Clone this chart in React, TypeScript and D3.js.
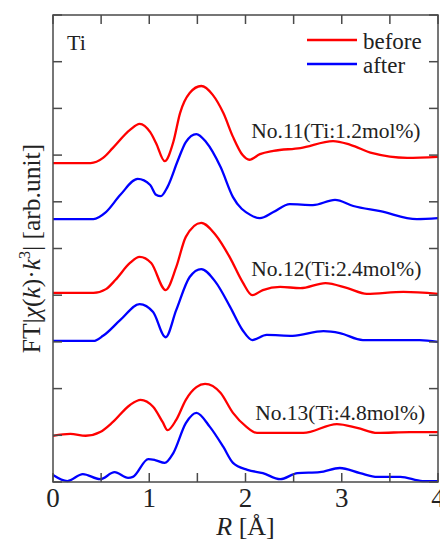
import React from 'react';
import * as d3 from 'd3';

// FT of EXAFS spectra, R in angstrom, magnitude in arbitrary (offset) units
const no11Before: [number, number][] = [
  [0, 6.83], [0.39, 6.83], [0.52, 6.94], [0.62, 7.15], [0.8, 7.54], [0.9, 7.67],
  [1.01, 7.49], [1.07, 7.26], [1.16, 6.87], [1.25, 7.28], [1.32, 7.9], [1.42, 8.33],
  [1.54, 8.48], [1.66, 8.29], [1.77, 7.9], [1.87, 7.39], [1.97, 7.0], [2.04, 6.9],
  [2.15, 7.02], [2.29, 7.09], [2.57, 7.15], [2.91, 7.3], [3.09, 7.22], [3.32, 7.04],
  [3.68, 6.94], [4.0, 6.96],
];
const no11After: [number, number][] = [
  [0, 5.63], [0.42, 5.63], [0.55, 5.78], [0.7, 6.15], [0.88, 6.49], [1.01, 6.36],
  [1.07, 6.15], [1.12, 6.12], [1.19, 6.32], [1.3, 6.9], [1.38, 7.28], [1.49, 7.45],
  [1.59, 7.28], [1.74, 6.75], [1.87, 6.1], [2.05, 5.72], [2.15, 5.65], [2.29, 5.78],
  [2.46, 5.95], [2.7, 5.93], [2.93, 6.04], [3.12, 5.91], [3.4, 5.8], [3.78, 5.63],
  [4.0, 5.65],
];
const no12Before: [number, number][] = [
  [0, 4.05], [0.42, 4.05], [0.55, 4.13], [0.65, 4.33], [0.8, 4.69], [0.9, 4.82],
  [1.02, 4.69], [1.17, 4.11], [1.28, 4.6], [1.38, 5.25], [1.54, 5.55], [1.69, 5.29],
  [1.84, 4.8], [1.97, 4.28], [2.07, 4.0], [2.18, 4.11], [2.36, 4.18], [2.57, 4.15],
  [2.83, 4.26], [3.06, 4.15], [3.26, 4.03], [3.64, 4.07], [4.0, 4.03],
];
const no12After: [number, number][] = [
  [0, 3.02], [0.42, 3.02], [0.52, 3.13], [0.7, 3.47], [0.9, 3.81], [1.04, 3.64],
  [1.17, 3.1], [1.28, 3.68], [1.42, 4.39], [1.54, 4.56], [1.69, 4.28], [1.84, 3.75],
  [1.97, 3.25], [2.07, 3.04], [2.22, 3.15], [2.49, 3.13], [2.81, 3.23], [2.98, 3.19],
  [3.22, 3.04], [3.81, 3.04], [4.0, 3.0],
];
const no13Before: [number, number][] = [
  [0, 0.99], [0.18, 1.03], [0.34, 0.99], [0.49, 1.07], [0.62, 1.28], [0.8, 1.65],
  [0.91, 1.76], [1.04, 1.61], [1.14, 1.28], [1.19, 1.11], [1.28, 1.33], [1.38, 1.76],
  [1.49, 2.03], [1.58, 2.1], [1.74, 1.91], [1.87, 1.48], [2.01, 1.18], [2.12, 1.05],
  [2.6, 1.05], [2.95, 1.24], [3.16, 1.16], [3.37, 1.05], [3.71, 1.07], [4.0, 1.07],
];
const no13After: [number, number][] = [
  [0, 0.15], [0.15, 0.02], [0.31, 0.17], [0.49, 0.06], [0.64, 0.21], [0.78, 0.09],
  [0.83, 0.11], [0.99, 0.49], [1.06, 0.47], [1.16, 0.41], [1.25, 0.62], [1.38, 1.26],
  [1.49, 1.48], [1.63, 1.18], [1.77, 0.75], [1.87, 0.41], [2.02, 0.26], [2.18, 0.19],
  [2.36, 0.06], [2.54, 0.19], [2.77, 0.21], [2.98, 0.3], [3.19, 0.19], [3.37, 0.11],
  [3.61, 0.11], [3.84, 0.02], [4.0, 0.02],
];

const seriesNames = ['before', 'after'];
const seriesColors = ['#ff0000', '#0000ff'];
const sampleLabels = ['No.11(Ti:1.2mol%)', 'No.12(Ti:2.4mol%)', 'No.13(Ti:4.8mol%)'];
const xTickLabels = ['0', '1', '2', '3', '4'];

const W = 440;
const H = 544;
const serif = '"Liberation Serif", "Times New Roman", serif';
const axisColor = '#4a4a4a';

const App = () => {
  const x = d3.scaleLinear().domain([0, 4]).range([53, 438]);
  const y = d3.scaleLinear().domain([0, 10]).range([482, 15]);

  const line = d3
    .line<[number, number]>()
    .x((d) => x(d[0]))
    .y((d) => y(d[1]))
    .curve(d3.curveMonotoneX);

  const curves = [
    { data: no11Before, color: seriesColors[0] },
    { data: no11After, color: seriesColors[1] },
    { data: no12Before, color: seriesColors[0] },
    { data: no12After, color: seriesColors[1] },
    { data: no13Before, color: seriesColors[0] },
    { data: no13After, color: seriesColors[1] },
  ];

  // where each sample label sits (data coords)
  const labelPos = [
    [2.06, 7.37],
    [2.06, 4.41],
    [2.1, 1.33],
  ];

  const xTicks = d3.range(0, 4.001, 0.5);
  const yTicks = d3.range(0, 10.001, 1);
  const tl = 9;

  return (
    <div style={{ position: 'fixed', left: 0, top: 0 }}>
      <svg width={W} height={H} style={{ display: 'block', background: '#fff' }}>
        {/* curves */}
        {curves.map((c, i) => (
          <path key={i} d={line(c.data) || ''} fill="none" stroke={c.color} strokeWidth={2.3} strokeLinejoin="round" />
        ))}

        {/* frame */}
        <rect x={x(0)} y={y(10)} width={x(4) - x(0)} height={y(0) - y(10)} fill="none" stroke={axisColor} strokeWidth={1.5} />

        {/* ticks, all pointing inward */}
        {xTicks.map((t) => (
          <g key={'x' + t} stroke={axisColor} strokeWidth={1.5}>
            <line x1={x(t)} x2={x(t)} y1={y(0)} y2={y(0) - tl} />
            <line x1={x(t)} x2={x(t)} y1={y(10)} y2={y(10) + tl} />
          </g>
        ))}
        {yTicks.map((t) => (
          <g key={'y' + t} stroke={axisColor} strokeWidth={1.5}>
            <line x1={x(0)} x2={x(0) + tl} y1={y(t)} y2={y(t)} />
            <line x1={x(4)} x2={x(4) - tl} y1={y(t)} y2={y(t)} />
          </g>
        ))}

        {/* x tick labels */}
        {xTickLabels.map((s, i) => (
          <text key={s} x={x(i)} y={507} textAnchor="middle" fontFamily={serif} fontSize={27} fill="#222">
            {s}
          </text>
        ))}

        {/* x axis title */}
        <text x={x(2)} y={535} textAnchor="middle" fontFamily={serif} fontSize={26} fill="#222">
          <tspan fontStyle="italic">R</tspan>
          <tspan> [Å]</tspan>
        </text>

        {/* y axis title */}
        <text
          transform={`translate(40,${y(5)}) rotate(-90)`}
          textAnchor="middle"
          fontFamily={serif}
          fontSize={25.5}
          fill="#222"
        >
          <tspan>FT|</tspan>
          <tspan fontStyle="italic">χ</tspan>
          <tspan>(</tspan>
          <tspan fontStyle="italic">k</tspan>
          <tspan>)·</tspan>
          <tspan fontStyle="italic">k</tspan>
          <tspan fontSize={16} dy={-10}>3</tspan>
          <tspan dy={10}>| [arb.unit]</tspan>
        </text>

        {/* element */}
        <text x={67} y={50} fontFamily={serif} fontSize={22} fill="#222">
          Ti
        </text>

        {/* legend */}
        {seriesNames.map((n, i) => (
          <g key={n}>
            <line x1={307} x2={357} y1={40 + i * 24} y2={40 + i * 24} stroke={seriesColors[i]} strokeWidth={2.3} />
            <text x={363} y={49 + i * 24} fontFamily={serif} fontSize={23} fill="#222">
              {n}
            </text>
          </g>
        ))}

        {/* sample labels */}
        {sampleLabels.map((s, i) => (
          <text key={s} x={x(labelPos[i][0])} y={y(labelPos[i][1])} fontFamily={serif} fontSize={21.5} fill="#222">
            {s}
          </text>
        ))}
      </svg>
    </div>
  );
};

export default App;
